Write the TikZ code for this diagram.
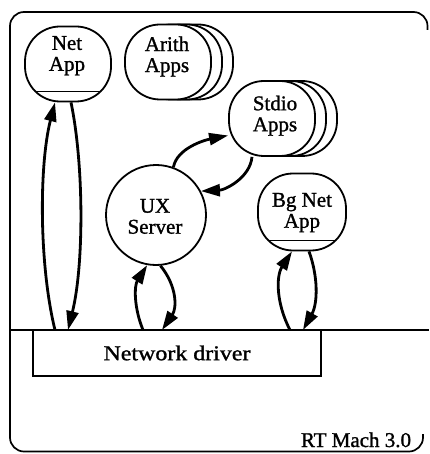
\documentclass[tikz,border=0pt]{standalone}
\usepackage{fontspec}
\setmainfont{Liberation Serif}[FakeBold=1.2]
\usepackage{graphicx}
\usetikzlibrary{arrows.meta}
\begin{document}
\begin{tikzpicture}[x=1pt,y=-1pt,
  frame/.style={line width=1.7pt, rounded corners=14pt},
  app/.style={draw, line width=1.8pt, fill=white, rounded corners=35pt,
    minimum width=86pt, minimum height=75pt, inner sep=0pt},
  netline/.style={path picture={\draw[line width=1.8pt]
    ([yshift=10pt]path picture bounding box.south west) --
    ([yshift=10pt]path picture bounding box.south east);}},
  srv/.style={draw, circle, line width=1.8pt, fill=white, minimum size=100pt, inner sep=0pt},
  lbl/.style={font=\fontsize{21}{21}\selectfont, align=center, inner sep=0pt},
  drv/.style={draw, line width=1.3pt, minimum width=288pt, minimum height=46pt,
    inner sep=0pt, font=\fontsize{21}{21}\selectfont},
  conn/.style={line width=2.8pt, -{Triangle[length=19pt,width=12pt]}}
]
\useasboundingbox (0,0) rectangle (429,454);
% outer frame (right side lies at the edge of the picture)
\draw[frame] (427.5,30) -- (427.5,12) -- (10,12) -- (10,451.5) -- (423,451.5) -- (423,434);
\draw[line width=1.7pt] (10,330) -- (429,330);
% network driver
\node[drv] (drv) at (177,353) {\scalebox{1.14}[1]{Network driver}};
% applications
\node[app, netline] (netapp) at (68,64) {};
\node[app] (arith3) at (190,62) {};
\node[app] (arith2) at (179,62) {};
\node[app] (arith) at (168,62) {};
\node[app] (stdio3) at (294,118.5) {};
\node[app] (stdio2) at (283,118.5) {};
\node[app] (stdio) at (272,118.5) {};
\node[app, netline, minimum width=88pt, minimum height=77pt] (bgnet) at (302,212) {};
\node[srv] (ux) at (156,215) {};
% labels
\node[lbl] (netappt) at (67,55.7) {Net\\App};
\node[lbl] (aritht) at (167,56.5) {Arith\\Apps};
\node[lbl] (stdiot) at (275,115.7) {Stdio\\Apps};
\node[lbl] (uxt) at (155,216.4) {UX\\Server};
\node[lbl] (bgnett) at (302,212.6) {Bg Net\\App};
\node[lbl, anchor=base] (rt) at (356,447) {RT Mach 3.0};
% ground points on the driver line
\coordinate (g1) at (55,330);
\coordinate (g2) at (68,330);
\coordinate (g3) at (143,330);
\coordinate (g4) at (162,330);
\coordinate (g5) at (290,330);
\coordinate (g6) at (303,330);
% connectors
\draw[conn] (g1) .. controls (39,265) and (39,165) .. ([xshift=-13pt]netapp.south);
\draw[conn] ([xshift=3pt]netapp.south) .. controls (84,165) and (84,265) .. (g2);
\draw[conn] (g3) .. controls (134,308) and (134,286) .. (ux.260);
\draw[conn] (ux.275) .. controls (177,286) and (177,308) .. (g4);
\draw[conn] (g5) .. controls (276,303) and (276,276) .. ([xshift=-10pt]bgnet.south);
\draw[conn] ([xshift=7pt]bgnet.south) .. controls (318,276) and (318,303) .. (g6);
\draw[conn] (ux.70) .. controls (177,148) and (205,140) .. ([yshift=-17pt]stdio.west);
\draw[conn] ([xshift=-20pt]stdio.south) .. controls (250,178) and (225,190) .. (ux.28);
\end{tikzpicture}
\end{document}
